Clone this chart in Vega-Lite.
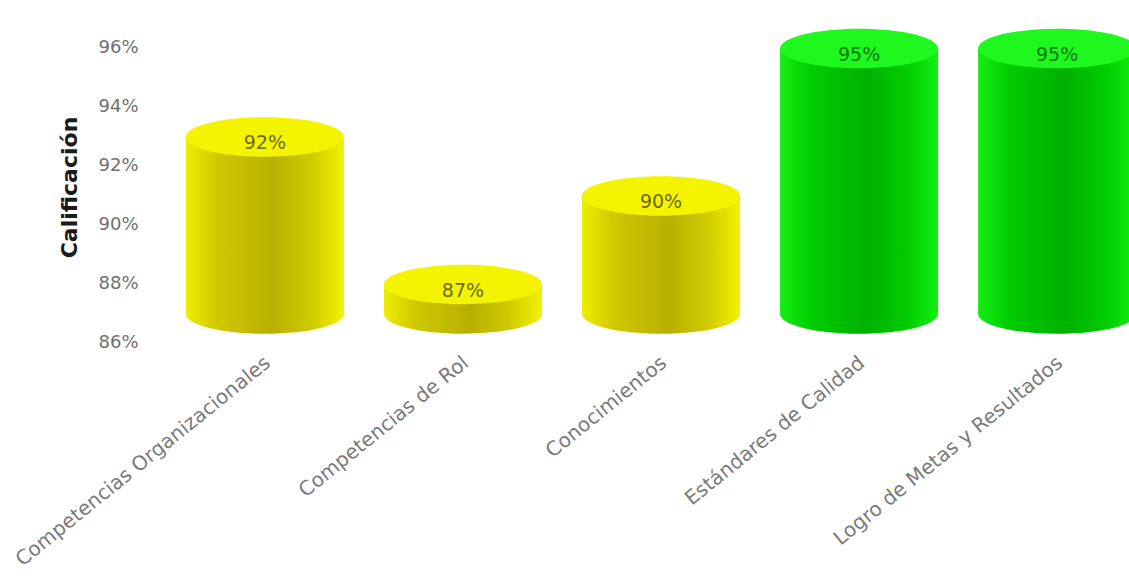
{
  "$schema": "https://vega.github.io/schema/vega-lite/v6.json",
  "autosize": {"type": "none"},
  "padding": {"left": 150, "top": 47, "right": 0, "bottom": 238},
  "width": 979,
  "height": 295,
  "background": "white",
  "config": {"view": {"stroke": null}, "font": "DejaVu Sans"},
  "data": {
    "values": [
      {"categoria": "Competencias Organizacionales", "calificacion": 0.92},
      {"categoria": "Competencias de Rol", "calificacion": 0.87},
      {"categoria": "Conocimientos", "calificacion": 0.90},
      {"categoria": "Estándares de Calidad", "calificacion": 0.95},
      {"categoria": "Logro de Metas y Resultados", "calificacion": 0.95}
    ]
  },
  "encoding": {
    "x": {
      "field": "categoria",
      "type": "nominal",
      "sort": null,
      "scale": {"range": [0, 1022], "paddingInner": 0, "paddingOuter": 0.08},
      "axis": {
        "title": null,
        "domain": false,
        "ticks": false,
        "labelAngle": -39,
        "labelAlign": "right",
        "labelBaseline": "middle",
        "labelPadding": 18,
        "labelOffset": 3,
        "labelFontSize": 20,
        "labelColor": "#7a7a7a",
        "labelLimit": 600
      }
    }
  },
  "layer": [
    {
      "mark": {
        "type": "point",
        "filled": true,
        "opacity": 1,
        "strokeWidth": 0,
        "shape": "M -1 0 A 1 0.25 0 1 0 1 0 A 1 0.25 0 1 0 -1 0 Z",
        "size": 24964,
        "yOffset": -28
      },
      "encoding": {
        "y": {"datum": 0.86, "type": "quantitative", "scale": {"domain": [0.86, 0.96]}},
        "fill": {
          "condition": {
            "test": "datum.calificacion >= 0.95",
            "value": {"gradient": "linear", "x1": 0, "x2": 1, "y1": 0, "y2": 0,
              "stops": [
                {"offset": 0, "color": "#14ee14"},
                {"offset": 0.2, "color": "#00cc00"},
                {"offset": 0.55, "color": "#00b000"},
                {"offset": 0.8, "color": "#00cc00"},
                {"offset": 1, "color": "#10f010"}]}
          },
          "value": {"gradient": "linear", "x1": 0, "x2": 1, "y1": 0, "y2": 0,
            "stops": [
              {"offset": 0, "color": "#eeee00"},
              {"offset": 0.2, "color": "#d0c800"},
              {"offset": 0.55, "color": "#b8b000"},
              {"offset": 0.8, "color": "#d0cc00"},
              {"offset": 1, "color": "#f2f200"}]}
        }
      }
    },
    {
      "mark": {"type": "bar", "width": 158, "yOffset": -28, "y2Offset": -28},
      "encoding": {
        "y": {
          "field": "calificacion",
          "type": "quantitative",
          "scale": {"domain": [0.86, 0.96], "zero": false, "nice": false},
          "axis": {
            "values": [0.86, 0.88, 0.90, 0.92, 0.94, 0.96],
            "format": ".0%",
            "domain": false,
            "ticks": false,
            "grid": false,
            "labelPadding": 12,
            "labelFontSize": 18,
            "labelColor": "#707070",
            "title": "Calificación",
            "titleFontSize": 22,
            "titleFontWeight": "bold",
            "titleColor": "#1a1a1a",
            "titlePadding": 16,
            "titleY": 140
          }
        },
        "y2": {"datum": 0.86},
        "fill": {
          "condition": {
            "test": "datum.calificacion >= 0.95",
            "value": {"gradient": "linear", "x1": 0, "x2": 1, "y1": 0, "y2": 0,
              "stops": [
                {"offset": 0, "color": "#14ee14"},
                {"offset": 0.2, "color": "#00cc00"},
                {"offset": 0.55, "color": "#00b000"},
                {"offset": 0.8, "color": "#00cc00"},
                {"offset": 1, "color": "#10f010"}]}
          },
          "value": {"gradient": "linear", "x1": 0, "x2": 1, "y1": 0, "y2": 0,
            "stops": [
              {"offset": 0, "color": "#eeee00"},
              {"offset": 0.2, "color": "#d0c800"},
              {"offset": 0.55, "color": "#b8b000"},
              {"offset": 0.8, "color": "#d0cc00"},
              {"offset": 1, "color": "#f2f200"}]}
        }
      }
    },
    {
      "mark": {
        "type": "point",
        "filled": true,
        "opacity": 1,
        "strokeWidth": 0,
        "shape": "M -1 0 A 1 0.25 0 1 0 1 0 A 1 0.25 0 1 0 -1 0 Z",
        "size": 24964,
        "yOffset": -28
      },
      "encoding": {
        "y": {"field": "calificacion", "type": "quantitative"},
        "fill": {
          "condition": {"test": "datum.calificacion >= 0.95", "value": "#1ef81e"},
          "value": "#f4f400"
        }
      }
    },
    {
      "mark": {"type": "text", "fontSize": 19, "baseline": "middle", "yOffset": -22},
      "encoding": {
        "y": {"field": "calificacion", "type": "quantitative"},
        "text": {"field": "calificacion", "type": "quantitative", "format": ".0%"},
        "color": {
          "condition": {"test": "datum.calificacion >= 0.95", "value": "#0a7a0a"},
          "value": "#6e6a00"
        }
      }
    }
  ]
}
